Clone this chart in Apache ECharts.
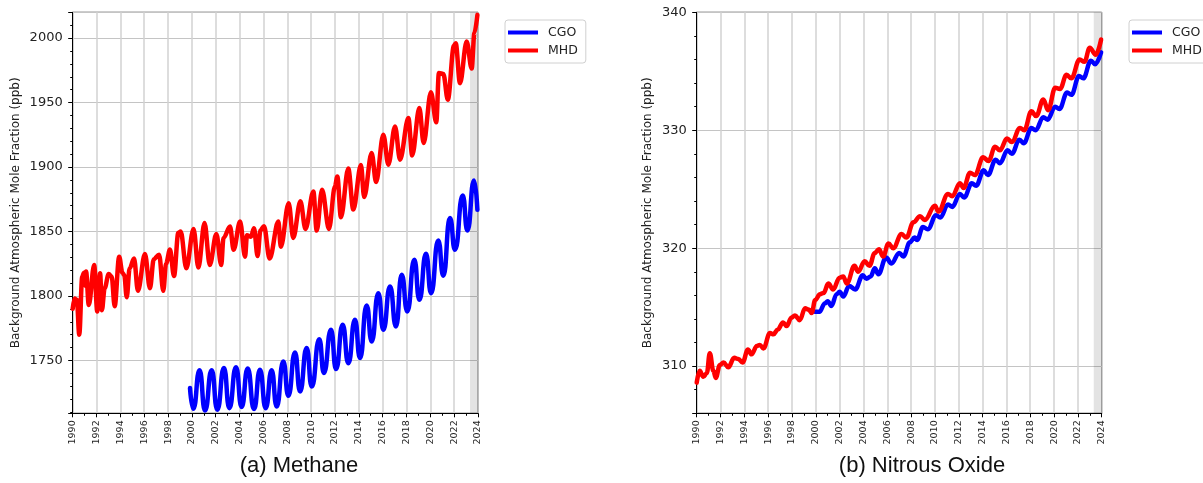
<!DOCTYPE html>
<html><head><meta charset="utf-8">
<script src="https://cdn.jsdelivr.net/npm/echarts@6/dist/echarts.min.js"></script>
<style>html,body{margin:0;padding:0;background:#fff;}#c{width:1203px;height:483px;}</style>
</head><body><div id="c"></div>
<script>
// ---- data: [decimal year, mole fraction ppb] ----
const ch4CGO = [[1999.84,1728.6],[2000.12,1712.5],[2000.64,1742.3],[2001.1,1711.2],[2001.66,1742.3],[2002.13,1711.8],[2002.69,1744.1],[2003.14,1713.0],[2003.7,1744.8],[2004.17,1713.8],[2004.68,1743.8],[2005.21,1712.3],[2005.71,1742.8],[2006.19,1713.0],[2006.69,1742.3],[2007.11,1714.3],[2007.67,1749.2],[2008.09,1722.6],[2008.65,1756.2],[2009.07,1726.0],[2009.63,1759.6],[2010.05,1729.8],[2010.69,1766.5],[2011.07,1740.2],[2011.67,1773.8],[2012.09,1743.3],[2012.65,1777.7],[2013.12,1747.9],[2013.68,1781.5],[2014.10,1751.8],[2014.66,1792.6],[2015.08,1764.7],[2015.64,1802.2],[2016.06,1773.8],[2016.62,1807.4],[2017.12,1776.4],[2017.60,1816.4],[2018.07,1788.0],[2018.66,1828.1],[2019.08,1797.0],[2019.64,1832.7],[2020.06,1802.2],[2020.67,1843.0],[2021.09,1815.6],[2021.65,1860.4],[2022.07,1835.8],[2022.72,1877.9],[2023.11,1850.8],[2023.67,1889.6],[2023.95,1866.8]];
const ch4MHD = [[1990.0,1790],[1990.15,1798],[1990.35,1797],[1990.55,1770],[1990.8,1815],[1990.95,1818],[1991.05,1808],[1991.12,1819],[1991.35,1793],[1991.8,1824],[1992.06,1788],[1992.3,1817.6],[1992.45,1789],[1992.68,1806],[1993.02,1817],[1993.27,1815],[1993.52,1792],[1993.9,1830.5],[1994.17,1818],[1994.33,1816],[1994.53,1799],[1994.78,1821.5],[1995.15,1829],[1995.47,1804],[1996.06,1832.5],[1996.48,1806],[1996.8,1828.5],[1997.25,1832],[1997.6,1804],[1997.83,1825],[1998.16,1836],[1998.5,1815.5],[1998.86,1849],[1999.06,1850],[1999.53,1821.5],[2000.14,1852],[2000.54,1822],[2001.06,1856.5],[2001.5,1824],[2002.05,1848],[2002.46,1824],[2002.65,1845],[2003.2,1853.8],[2003.5,1835.8],[2004.04,1857.7],[2004.46,1830.5],[2004.62,1847],[2004.95,1846],[2005.21,1852.6],[2005.51,1831],[2005.75,1851],[2006.05,1854],[2006.52,1829],[2007.25,1857.7],[2007.46,1838.2],[2008.12,1872],[2008.5,1845],[2009.1,1873.4],[2009.53,1852],[2010.19,1881],[2010.47,1850.7],[2010.92,1882.4],[2011.5,1852],[2012.0,1885],[2012.2,1892.7],[2012.5,1861],[2013.12,1898.8],[2013.54,1867],[2014.18,1901.5],[2014.45,1876.7],[2015.08,1910.9],[2015.45,1888.3],[2016.06,1925.1],[2016.48,1901.8],[2017.04,1931.5],[2017.46,1905.7],[2018.16,1938],[2018.48,1909],[2019.08,1945.7],[2019.44,1918.6],[2020.05,1958],[2020.5,1934.7],[2020.72,1972.9],[2021.09,1972.2],[2021.47,1952.2],[2021.98,1994],[2022.13,1996],[2022.49,1965],[2023.05,1997.4],[2023.47,1976.4],[2023.7,2004],[2023.95,2018]];
const n2oCGO = [[1999.92,314.6],[2000.3,314.6],[2000.75,315.3],[2001.0,315.5],[2001.3,315.1],[2001.75,316.1],[2002.0,316.3],[2002.3,315.9],[2002.8,316.8],[2003.3,316.5],[2003.95,317.7],[2004.25,317.4],[2004.6,317.6],[2004.95,318.3],[2005.25,317.8],[2005.9,319.2],[2006.35,318.7],[2007.0,319.6],[2007.35,319.3],[2007.9,320.5],[2008.3,320.9],[2008.5,320.7],[2009.0,321.8],[2009.4,321.6],[2010.1,322.8],[2010.45,322.6],[2011.1,323.7],[2011.45,323.5],[2012.1,324.6],[2012.45,324.3],[2013.1,325.5],[2013.45,325.3],[2014.1,326.6],[2014.45,326.2],[2015.1,327.5],[2015.45,327.2],[2016.1,328.3],[2016.45,328.0],[2017.1,329.2],[2017.45,328.9],[2018.1,330.2],[2018.45,330.0],[2019.1,331.1],[2019.45,330.9],[2020.1,332.0],[2020.45,331.8],[2021.1,333.2],[2021.45,333.0],[2022.1,334.6],[2022.45,334.4],[2023.1,335.9],[2023.45,335.6],[2023.95,336.6]];
const n2oMHD = [[1990.0,308.6],[1990.25,309.6],[1990.55,309.1],[1990.85,309.4],[1991.1,311.1],[1991.4,309.6],[1991.6,309.0],[1991.95,310.1],[1992.25,310.3],[1992.65,309.9],[1993.15,310.7],[1993.5,310.6],[1993.85,310.3],[1994.3,311.4],[1994.6,311.0],[1995.05,311.7],[1995.3,311.8],[1995.6,311.5],[1996.15,312.8],[1996.45,312.7],[1996.8,313.1],[1997.25,313.7],[1997.55,313.4],[1997.95,314.1],[1998.25,314.3],[1998.65,313.9],[1999.1,314.9],[1999.4,314.8],[1999.65,314.5],[1999.95,315.6],[2000.35,316.1],[2000.65,316.2],[2001.05,317.0],[2001.45,316.5],[2002.0,317.5],[2002.3,317.6],[2002.6,317.0],[2003.25,318.5],[2003.55,318.0],[2004.1,318.9],[2004.5,318.5],[2004.95,319.6],[2005.3,319.9],[2005.65,319.3],[2006.1,320.4],[2006.5,320.0],[2007.2,321.2],[2007.6,320.9],[2008.2,322.2],[2008.75,322.7],[2009.15,322.4],[2010.0,323.6],[2010.3,323.1],[2011.1,324.6],[2011.45,324.4],[2012.1,325.5],[2012.4,325.1],[2012.95,326.4],[2013.35,326.2],[2014.05,327.7],[2014.5,327.4],[2015.05,328.6],[2015.45,328.3],[2016.05,329.3],[2016.45,329.0],[2017.15,330.2],[2017.5,330.0],[2018.1,331.6],[2018.5,331.2],[2019.1,332.6],[2019.5,331.7],[2020.1,333.6],[2020.5,333.5],[2021.05,334.7],[2021.45,334.4],[2022.15,336.0],[2022.55,335.8],[2023.0,337.0],[2023.5,336.4],[2023.95,337.7]];
const shadedPeriod = [2023.33, 2024];
const panelTitles = ['(a) Methane', '(b) Nitrous Oxide'];
const yName = 'Background Atmospheric Mole Fraction (ppb)';
const seriesNames = ['CGO', 'MHD'];

const F = 'DejaVu Sans';
const TXT = '#222';
function xAx(g) {
  return {
    type: 'value', gridIndex: g, min: 1990, max: 2024, interval: 2,
    axisLine: {show: true, onZero: false, lineStyle: {color: '#000', width: 1}},
    axisTick: {show: true, length: 4, lineStyle: {color: '#000', width: 1}},
    minorTick: {show: true, splitNumber: 2, length: 2.5, lineStyle: {color: '#000', width: 1}},
    axisLabel: {rotate: 90, fontSize: 9.5, color: TXT, fontFamily: F, margin: 7, formatter: v => String(v)},
    splitLine: {show: true, lineStyle: {color: '#d2d2d2', width: 1.5}}
  };
}
function yAx(g, mn, mx, step, gap, showMax) {
  return {
    type: 'value', gridIndex: g, min: mn, max: mx, minInterval: step, maxInterval: step,
    axisLine: {show: true, onZero: false, lineStyle: {color: '#000', width: 1}},
    axisTick: {show: true, length: 4.5, lineStyle: {color: '#000', width: 1}},
    minorTick: {show: true, splitNumber: 5, length: 2.5, lineStyle: {color: '#000', width: 1}},
    axisLabel: {showMinLabel: false, showMaxLabel: showMax, fontSize: 13, color: TXT, fontFamily: F, margin: 10, formatter: v => String(v)},
    splitLine: {show: true, lineStyle: {color: '#c4c4c4', width: 1.2}},
    name: yName, nameLocation: 'middle', nameGap: gap,
    nameTextStyle: {fontSize: 12, color: TXT, fontFamily: F}
  };
}
function line(name, color, data, xi, smooth, extra) {
  return Object.assign({
    name, type: 'line', xAxisIndex: xi, yAxisIndex: xi, data,
    symbol: 'none', showSymbol: false, smooth, smoothMonotone: 'x',
    lineStyle: {color, width: 4.5, cap: 'round', join: 'round'}, itemStyle: {color}
  }, extra || {});
}
const band = {silent: true, itemStyle: {color: 'rgba(0,0,0,0.11)'}, label: {show: false},
  data: [[{xAxis: shadedPeriod[0]}, {xAxis: shadedPeriod[1]}]]};
function legend(left) {
  return {left, top: 20, orient: 'vertical', icon: 'rect', itemWidth: 30, itemHeight: 4, itemGap: 5,
    data: seriesNames, textStyle: {fontSize: 12.5, color: TXT, fontFamily: F, padding: [0, 0, 0, 5]},
    borderColor: '#d0d0d0', borderWidth: 1, borderRadius: 3, padding: [6, 8, 6, 3], backgroundColor: '#fff'};
}
const chart = echarts.init(document.getElementById('c'), null, {renderer: 'canvas'});
chart.setOption({
  animation: false,
  backgroundColor: '#fff',
  title: [
    {text: panelTitles[0], left: 299, top: 455, textAlign: 'center', padding: 0,
      textStyle: {fontSize: 22, fontWeight: 'normal', fontFamily: 'Liberation Sans', color: '#111'}},
    {text: panelTitles[1], left: 922, top: 455, textAlign: 'center', padding: 0,
      textStyle: {fontSize: 22, fontWeight: 'normal', fontFamily: 'Liberation Sans', color: '#111'}}
  ],
  legend: [legend(505), legend(1129)],
  grid: [
    {left: 72.7, top: 12.3, width: 405.3, height: 401, show: true, borderColor: '#000', borderWidth: 1, containLabel: false},
    {left: 696.7, top: 12.3, width: 405, height: 401, show: true, borderColor: '#000', borderWidth: 1, containLabel: false}
  ],
  xAxis: [xAx(0), xAx(1)],
  yAxis: [yAx(0, 1709, 2020, 50, 51, false), yAx(1, 306, 340, 10, 43, true)],
  series: [
    line(seriesNames[0], '#0000ff', ch4CGO, 0, 0.55),
    line(seriesNames[1], '#ff0000', ch4MHD, 0, 0.35, {markArea: band}),
    line(seriesNames[0], '#0000ff', n2oCGO, 1, 0.4),
    line(seriesNames[1], '#ff0000', n2oMHD, 1, 0.4, {markArea: band})
  ]
});
</script></body></html>
